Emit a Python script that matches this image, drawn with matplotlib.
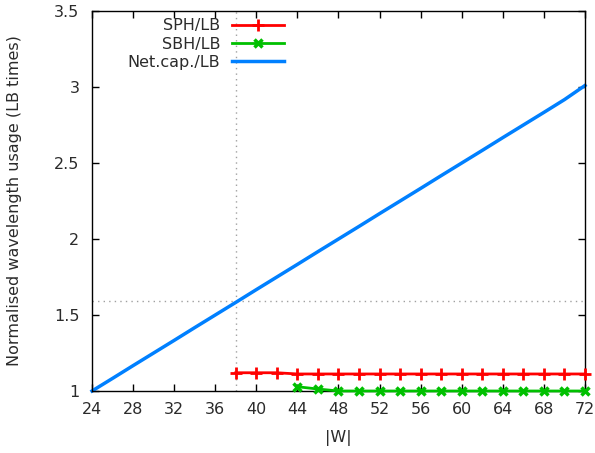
import matplotlib
matplotlib.use("Agg")
import matplotlib.pyplot as plt

# Normalised wavelength usage versus |W|
w_sph = [38, 40, 42, 44, 46, 48, 50, 52, 54, 56, 58, 60, 62, 64, 66, 68, 70, 72]
sph_lb = [1.12, 1.12, 1.12, 1.112, 1.112, 1.112, 1.112, 1.112, 1.112, 1.112,
          1.112, 1.112, 1.112, 1.112, 1.112, 1.112, 1.112, 1.112]

w_sbh = [44, 46, 48, 50, 52, 54, 56, 58, 60, 62, 64, 66, 68, 70, 72]
sbh_lb = [1.028, 1.013, 1.0, 1.0, 1.0, 1.0, 1.0, 1.0, 1.0, 1.0, 1.0, 1.0, 1.0, 1.0, 1.0]

w_net = [24, 26, 28, 30, 32, 34, 36, 38, 40, 42, 44, 46, 48, 50, 52, 54, 56,
         58, 60, 62, 64, 66, 68, 70, 72]
net_lb = [1.0, 1.083, 1.167, 1.25, 1.333, 1.417, 1.5, 1.583, 1.667, 1.75, 1.833,
          1.917, 2.0, 2.083, 2.167, 2.25, 2.333, 2.417, 2.5, 2.583, 2.667, 2.75,
          2.833, 2.917, 3.01]

ref_w = 38
ref_ratio = 1.59

x_ticks = [24, 28, 32, 36, 40, 44, 48, 52, 56, 60, 64, 68, 72]
y_ticks = [1, 1.5, 2, 2.5, 3, 3.5]
y_labels = ["1", "1.5", "2", "2.5", "3", "3.5"]

FS = 11.5
TXT = "#2b2b2b"
plt.rcParams["font.family"] = ["DejaVu Sans"]
plt.rcParams["font.size"] = FS

fig = plt.figure(figsize=(5.95, 4.53), dpi=100)
ax = fig.add_axes([92 / 595, 1 - 391 / 453, (585 - 92) / 595, (391 - 11) / 453])

ax.axvline(ref_w, color="#a0a0a0", linestyle=(0, (1, 3)), linewidth=1, zorder=1)
ax.axhline(ref_ratio, color="#a0a0a0", linestyle=(0, (1, 3)), linewidth=1, zorder=1)

ax.plot(w_sph, sph_lb, color="#ff0000", linewidth=2, marker="+", markersize=8,
        markeredgewidth=2, label="SPH/LB", zorder=3, clip_on=False)
ax.plot(w_sbh, sbh_lb, color="#00c000", linewidth=2, marker="x", markersize=6,
        markeredgewidth=2.5, label="SBH/LB", zorder=3, clip_on=False)
ax.plot(w_net, net_lb, color="#0080ff", linewidth=2.5, label="Net.cap./LB",
        zorder=2, clip_on=False)

ax.set_xlim(24, 72)
ax.set_ylim(1, 3.5)
ax.set_xticks(x_ticks)
ax.set_yticks(y_ticks)
ax.set_yticklabels(y_labels)
ax.tick_params(direction="in", top=True, right=True, length=5, width=1,
               labelsize=FS, labelcolor=TXT)
ax.tick_params(axis="x", pad=8)
ax.tick_params(axis="y", pad=9)
for s in ax.spines.values():
    s.set_linewidth(1)

ax.set_xlabel("|W|", color=TXT, fontsize=FS, labelpad=9)
ax.set_ylabel("Normalised wavelength usage (LB times)", color=TXT,
              fontsize=FS, labelpad=23)

leg = ax.legend(loc="upper left", bbox_to_anchor=(0.05, 1.01), frameon=False,
                markerfirst=False, handlelength=3.2, handletextpad=0.75,
                labelspacing=0.2, fontsize=FS, borderaxespad=0.3)
for t in leg.get_texts():
    t.set_color(TXT)
    t.set_ha("right")
leg._legend_box.align = "right"

fig.savefig("out.png", dpi=100)
